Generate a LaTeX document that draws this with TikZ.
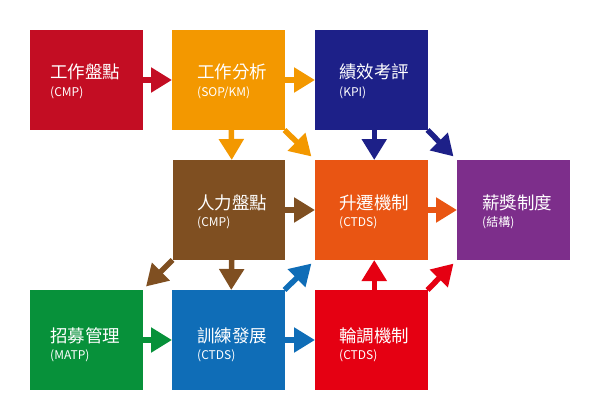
\documentclass[tikz,border=0pt]{standalone}
\usepackage{fontspec}
\setmainfont{Noto Sans CJK TC}
\usetikzlibrary{arrows.meta}
\definecolor{cRed}{HTML}{C30D23}
\definecolor{cOrange}{HTML}{F39800}
\definecolor{cNavy}{HTML}{1D2088}
\definecolor{cBrown}{HTML}{7F4F21}
\definecolor{cOrRed}{HTML}{E95513}
\definecolor{cPurple}{HTML}{7D2E8B}
\definecolor{cGreen}{HTML}{07913A}
\definecolor{cBlue}{HTML}{0F6DB7}
\definecolor{cRedB}{HTML}{E50012}
\begin{document}
\begin{tikzpicture}[x=1pt,y=-1pt,
  box/.style={minimum width=112.5pt, minimum height=100pt, inner sep=0pt, outer sep=0pt, anchor=north west, draw=none},
  ttl/.style={anchor=west, text=white, font=\fontsize{17.5}{20}\selectfont, inner sep=0pt},
  sub/.style={anchor=west, text=white, font=\fontsize{12}{14}\selectfont, inner sep=0pt},
  arr/.style={line width=5.5pt, -{Triangle[length=21pt,width=24pt]}},
  darr/.style={arr, shorten >=5pt}]
\useasboundingbox (0,0) rectangle (600,420);
% boxes
\node[box, fill=cRed]    (cmp)  at (30,30)   {};
\node[box, fill=cOrange] (sop)  at (172,30)  {};
\node[box, fill=cNavy]   (kpi)  at (315,30)  {};
\node[box, fill=cBrown]  (hr)   at (172.5,160) {};
\node[box, fill=cOrRed]  (prom) at (315,160) {};
\node[box, fill=cPurple] (pay)  at (457,160) {};
\node[box, fill=cGreen]  (rec)  at (30,290)  {};
\node[box, fill=cBlue]   (trn)  at (172,290) {};
\node[box, fill=cRedB]   (rot)  at (315,290) {};
% texts
\node[ttl] (t1) at (50,72) {工作盤點};
\node[sub] (s1) at (50,93) {(CMP)};
\node[ttl] (t2) at (197,72) {工作分析};
\node[sub] (s2) at (197,93) {(SOP/KM)};
\node[ttl] (t3) at (339,72) {績效考評};
\node[sub] (s3) at (339,93) {(KPI)};
\node[ttl] (t4) at (197,203) {人力盤點};
\node[sub] (s4) at (197,223) {(CMP)};
\node[ttl] (t5) at (339,203) {升遷機制};
\node[sub] (s5) at (339,223) {(CTDS)};
\node[ttl] (t6) at (482,203) {薪獎制度};
\node[sub] (s6) at (482,223) {(結構)};
\node[ttl] (t7) at (50,336) {招募管理};
\node[sub] (s7) at (50,356) {(MATP)};
\node[ttl] (t8) at (197,336) {訓練發展};
\node[sub] (s8) at (197,356) {(CTDS)};
\node[ttl] (t9) at (339,336) {輪調機制};
\node[sub] (s9) at (339,356) {(CTDS)};
% arrows
\draw[arr, cRed] (cmp.east) -- (sop.west);
\draw[arr, cOrange] (sop.east) -- (kpi.west);
\draw[arr, cOrange] ([xshift=3pt]sop.south) -- ([xshift=3pt]hr.north);
\draw[darr, cOrange] (sop.south east) -- (prom.north west);
\draw[arr, cNavy] ([xshift=3pt]kpi.south) -- ([xshift=3pt]prom.north);
\draw[darr, cNavy] (kpi.south east) -- (pay.north west);
\draw[arr, cBrown] (hr.east) -- (prom.west);
\draw[arr, cOrRed] (prom.east) -- (pay.west);
\draw[darr, cBrown] (hr.south west) -- (rec.north east);
\draw[arr, cBrown] ([xshift=3pt]hr.south) -- ([xshift=3pt]trn.north);
\draw[arr, cGreen] (rec.east) -- (trn.west);
\draw[arr, cBlue] (trn.east) -- (rot.west);
\draw[darr, cBlue] (trn.north east) -- (prom.south west);
\draw[arr, cRedB] ([xshift=3pt]rot.north) -- ([xshift=3pt]prom.south);
\draw[darr, cRedB] (rot.north east) -- (pay.south west);
\end{tikzpicture}
\end{document}
